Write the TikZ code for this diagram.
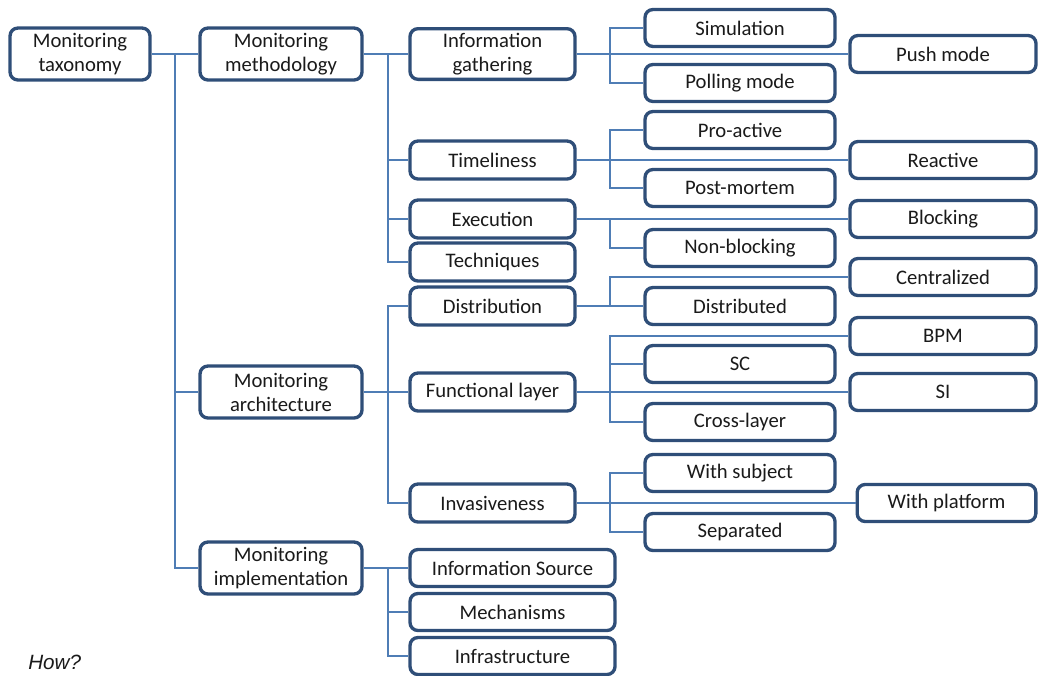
\documentclass[tikz,border=0pt]{standalone}
\usepackage{fontspec}
\setmainfont{Carlito}
\newfontfamily\howfont{Liberation Sans}
\definecolor{boxline}{HTML}{2F4E78}
\definecolor{linkline}{HTML}{4F7DB5}
\definecolor{inktext}{HTML}{1A1A1A}
\begin{document}
\begin{tikzpicture}[x=0.75pt,y=-0.75pt,
  box/.style={draw=boxline,line width=2.5pt,rounded corners=6pt,fill=white,
    align=center,inner sep=0pt,text=inktext,font=\fontsize{15.5}{18}\selectfont},
  big/.style={box,minimum height=39pt},
  lvl/.style={box,minimum width=123.75pt,minimum height=28.5pt},
  mid/.style={box,minimum width=142.5pt,minimum height=27.75pt},
  far/.style={box,minimum width=139.5pt,minimum height=27.75pt},
  imp/.style={box,minimum width=153.75pt,minimum height=27.75pt},
  link/.style={draw=linkline,line width=1.7pt}]
\useasboundingbox (0,0) rectangle (1038,675);

% first level
\node[big,minimum width=105pt] (tax) at (80,54) {Monitoring\\taxonomy};
\node[big,minimum width=121.5pt] (meth) at (281,54) {Monitoring\\methodology};
\node[big,minimum width=121.5pt] (arch) at (281,392) {Monitoring\\architecture};
\node[big,minimum width=121.5pt] (impl) at (281,568) {Monitoring\\implementation};

% methodology branch
\node[lvl,minimum height=38pt] (ig) at (492.5,54) {Information\\gathering};
\node[lvl] (time) at (492.5,160) {Timeliness};
\node[lvl] (exec) at (492.5,219) {Execution};
\node[lvl] (tech) at (492.5,262) {Techniques};

% architecture branch
\node[lvl] (dist) at (492.5,306) {Distribution};
\node[lvl] (func) at (492.5,392) {Functional layer};
\node[lvl] (inv) at (492.5,503) {Invasiveness};

% implementation branch
\node[imp] (src) at (512.5,568) {Information Source};
\node[imp] (mech) at (512.5,612) {Mechanisms};
\node[imp] (infra) at (512.5,656) {Infrastructure};

% middle column leaves
\node[mid] (sim) at (740,28) {Simulation};
\node[mid] (poll) at (740,83) {Polling mode};
\node[mid] (pro) at (740,130) {Pro-active};
\node[mid] (post) at (740,188) {Post-mortem};
\node[mid] (nonb) at (740,248) {Non-blocking};
\node[mid] (dised) at (740,306) {Distributed};
\node[mid] (sc) at (740,364) {SC};
\node[mid] (cross) at (740,422) {Cross-layer};
\node[mid] (subj) at (740,473) {With subject};
\node[mid] (sep) at (740,532) {Separated};

% right column leaves
\node[far] (push) at (943,54) {Push mode};
\node[far] (react) at (943,160) {Reactive};
\node[far] (block) at (943,219) {Blocking};
\node[far] (cent) at (943,277) {Centralized};
\node[far] (bpm) at (943,336) {BPM};
\node[far] (si) at (943,392) {SI};
\node[far,minimum width=134pt] (plat) at (946.5,503) {With platform};

\node[anchor=west,inner sep=0pt,text=inktext,font=\howfont\itshape\fontsize{15.5}{16}\selectfont] (how) at (28,662) {How?};

% spine positions
\coordinate (s0) at (175,0);
\coordinate (s1) at (388,0);
\coordinate (s2) at (610,0);

% taxonomy spine
\draw[link] (tax.east) -- (meth.west);
\draw[link] (s0 |- tax.east) |- (arch.west);
\draw[link] (s0 |- tax.east) |- (impl.west);

% methodology spine
\draw[link] (meth.east) -- (ig.west);
\draw[link] (s1 |- meth.east) |- (time.west);
\draw[link] (s1 |- meth.east) |- (exec.west);
\draw[link] (s1 |- meth.east) |- (tech.west);

% architecture spine
\draw[link] (arch.east) -- (func.west);
\draw[link] (s1 |- arch.east) |- (dist.west);
\draw[link] (s1 |- arch.east) |- (inv.west);

% implementation spine
\draw[link] (impl.east) -- (src.west);
\draw[link] (s1 |- impl.east) |- (mech.west);
\draw[link] (s1 |- impl.east) |- (infra.west);

% information gathering
\draw[link] (ig.east) -- (push.west);
\draw[link] (s2 |- ig.east) |- (sim.west);
\draw[link] (s2 |- ig.east) |- (poll.west);

% timeliness
\draw[link] (time.east) -- (react.west);
\draw[link] (s2 |- time.east) |- (pro.west);
\draw[link] (s2 |- time.east) |- (post.west);

% execution
\draw[link] (exec.east) -- (block.west);
\draw[link] (s2 |- exec.east) |- (nonb.west);

% distribution
\draw[link] (dist.east) -- (dised.west);
\draw[link] (s2 |- dist.east) |- (cent.west);

% functional layer
\draw[link] (func.east) -- (si.west);
\draw[link] (s2 |- func.east) |- (bpm.west);
\draw[link] (s2 |- func.east) |- (sc.west);
\draw[link] (s2 |- func.east) |- (cross.west);

% invasiveness
\draw[link] (inv.east) -- (plat.west);
\draw[link] (s2 |- inv.east) |- (subj.west);
\draw[link] (s2 |- inv.east) |- (sep.west);
\end{tikzpicture}
\end{document}
